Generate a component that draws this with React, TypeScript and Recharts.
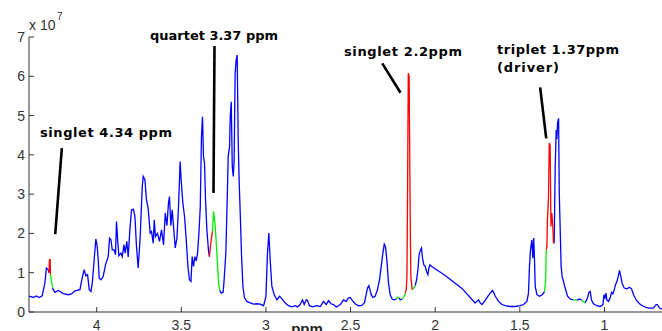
import { LineChart, Line, XAxis, YAxis, ReferenceLine } from "recharts";

// [chemical shift in ppm, intensity in units of 1e7], read left to right off the spectrum
const spectrum: [number, number][] = [
  [4.4, 0.4], [4.393, 0.4], [4.375, 0.37], [4.357, 0.41], [4.34, 0.37], [4.322, 0.41],
  [4.306, 0.74], [4.297, 1.12], [4.287, 1.08], [4.282, 1.0], [4.279, 1.33], [4.275, 1.33],
  [4.273, 0.95], [4.267, 0.78], [4.261, 0.62], [4.257, 0.57], [4.247, 0.5], [4.227, 0.55],
  [4.216, 0.52], [4.198, 0.47], [4.168, 0.44], [4.149, 0.46], [4.129, 0.54], [4.099, 0.57],
  [4.09, 0.78], [4.074, 1.08], [4.064, 0.92], [4.054, 0.95], [4.044, 0.57], [4.034, 0.52],
  [4.025, 0.78], [4.015, 1.33], [4.005, 1.86], [3.997, 1.67], [3.991, 1.33], [3.985, 0.86],
  [3.975, 0.82], [3.962, 0.9], [3.948, 1.2], [3.932, 1.41], [3.924, 1.88], [3.916, 1.84],
  [3.908, 1.58], [3.897, 1.58], [3.889, 1.46], [3.883, 2.3], [3.877, 1.88], [3.869, 1.43],
  [3.857, 1.5], [3.849, 1.41], [3.839, 1.71], [3.832, 1.5], [3.822, 1.8], [3.814, 1.4],
  [3.804, 2.09], [3.794, 2.6], [3.783, 2.62], [3.774, 2.43], [3.765, 1.67], [3.755, 1.12],
  [3.743, 1.92], [3.731, 3.19], [3.725, 3.45], [3.715, 3.36], [3.706, 2.86], [3.696, 2.64],
  [3.684, 2.01], [3.676, 2.05], [3.666, 1.75], [3.66, 2.35], [3.653, 1.92], [3.641, 2.0],
  [3.629, 1.8], [3.617, 2.09], [3.605, 1.71], [3.595, 2.52], [3.585, 2.2], [3.576, 2.77],
  [3.57, 2.94], [3.562, 2.2], [3.554, 2.6], [3.546, 2.18], [3.536, 1.63], [3.526, 1.88],
  [3.517, 2.64], [3.507, 3.83], [3.501, 3.36], [3.491, 2.77], [3.481, 2.43], [3.471, 1.84],
  [3.461, 1.16], [3.452, 0.82], [3.443, 0.78], [3.436, 1.41], [3.428, 1.16], [3.42, 1.41],
  [3.412, 1.3], [3.404, 1.5], [3.396, 2.01], [3.388, 2.68], [3.381, 4.46], [3.375, 4.97],
  [3.369, 3.96], [3.363, 3.79], [3.357, 2.86], [3.349, 2.09], [3.339, 1.54], [3.334, 1.41],
  [3.329, 1.63], [3.323, 1.85], [3.316, 2.05], [3.31, 2.56], [3.3, 2.2], [3.291, 1.58],
  [3.28, 0.74], [3.273, 0.55], [3.264, 0.48], [3.253, 0.5], [3.247, 0.82], [3.237, 1.5],
  [3.229, 2.86], [3.223, 3.96], [3.215, 4.21], [3.211, 4.97], [3.205, 5.35], [3.199, 3.7],
  [3.193, 3.45], [3.188, 3.87], [3.182, 6.08], [3.176, 6.41], [3.17, 6.54], [3.164, 4.38],
  [3.158, 3.28], [3.152, 2.52], [3.144, 1.41], [3.136, 0.65], [3.127, 0.36], [3.113, 0.27],
  [3.093, 0.23], [3.074, 0.2], [3.054, 0.21], [3.034, 0.2], [3.014, 0.16], [3.0, 0.4],
  [2.991, 1.5], [2.983, 2.01], [2.975, 1.33], [2.965, 0.65], [2.951, 0.44], [2.935, 0.31],
  [2.92, 0.4], [2.906, 0.34], [2.886, 0.23], [2.867, 0.16], [2.847, 0.13], [2.827, 0.16],
  [2.814, 0.13], [2.798, 0.19], [2.784, 0.31], [2.774, 0.19], [2.762, 0.31], [2.755, 0.3],
  [2.743, 0.16], [2.723, 0.13], [2.703, 0.16], [2.679, 0.14], [2.66, 0.27], [2.644, 0.19],
  [2.63, 0.29], [2.616, 0.21], [2.601, 0.19], [2.585, 0.13], [2.571, 0.16], [2.557, 0.21],
  [2.542, 0.31], [2.526, 0.27], [2.512, 0.36], [2.502, 0.37], [2.489, 0.29], [2.473, 0.21],
  [2.453, 0.16], [2.433, 0.17], [2.418, 0.24], [2.408, 0.44], [2.4, 0.61], [2.392, 0.67],
  [2.386, 0.57], [2.378, 0.44], [2.368, 0.37], [2.355, 0.4], [2.341, 0.57], [2.329, 0.82],
  [2.319, 1.16], [2.309, 1.5], [2.301, 1.73], [2.294, 1.67], [2.285, 1.29], [2.276, 0.74],
  [2.266, 0.44], [2.254, 0.33], [2.242, 0.31], [2.23, 0.33], [2.222, 0.38], [2.214, 0.36],
  [2.207, 0.31], [2.195, 0.33], [2.183, 0.4], [2.177, 0.48], [2.171, 0.57], [2.167, 0.9],
  [2.164, 2.56], [2.159, 6.08], [2.154, 6.0], [2.148, 2.56], [2.144, 0.9], [2.136, 0.57],
  [2.128, 0.61], [2.118, 0.67], [2.11, 0.82], [2.102, 1.08], [2.095, 1.46], [2.087, 1.58],
  [2.081, 1.63], [2.075, 1.37], [2.067, 1.2], [2.059, 1.16], [2.051, 1.03], [2.043, 0.95],
  [2.037, 1.12], [2.031, 1.2], [2.02, 1.16], [1.941, 0.93], [1.842, 0.6], [1.764, 0.23],
  [1.754, 0.27], [1.744, 0.31], [1.734, 0.23], [1.724, 0.19], [1.709, 0.27], [1.689, 0.4],
  [1.675, 0.48], [1.661, 0.55], [1.653, 0.48], [1.645, 0.4], [1.626, 0.27], [1.606, 0.19],
  [1.586, 0.16], [1.557, 0.14], [1.527, 0.14], [1.498, 0.16], [1.478, 0.19], [1.458, 0.27],
  [1.449, 0.48], [1.443, 1.16], [1.437, 1.58], [1.429, 1.84], [1.423, 1.37], [1.418, 1.88],
  [1.413, 1.3], [1.409, 0.65], [1.399, 0.44], [1.384, 0.4], [1.368, 0.44], [1.354, 0.52],
  [1.348, 0.78], [1.344, 1.58], [1.34, 1.67], [1.337, 2.35], [1.331, 2.86], [1.326, 4.3],
  [1.321, 4.25], [1.316, 2.18], [1.311, 2.52], [1.305, 2.18], [1.301, 1.75], [1.297, 1.75],
  [1.291, 3.7], [1.285, 4.63], [1.281, 4.4], [1.277, 4.81], [1.271, 4.93], [1.267, 3.03],
  [1.261, 2.01], [1.256, 1.16], [1.25, 0.9], [1.242, 0.78], [1.232, 0.61], [1.218, 0.4],
  [1.202, 0.33], [1.186, 0.31], [1.179, 0.31], [1.163, 0.3], [1.147, 0.33], [1.133, 0.3],
  [1.12, 0.25], [1.114, 0.23], [1.1, 0.36], [1.092, 0.5], [1.084, 0.52], [1.077, 0.31],
  [1.065, 0.21], [1.045, 0.16], [1.025, 0.14], [1.009, 0.19], [1.003, 0.44], [0.997, 0.36],
  [0.991, 0.48], [0.986, 0.31], [0.976, 0.27], [0.966, 0.36], [0.958, 0.5], [0.95, 0.46],
  [0.942, 0.57], [0.935, 0.69], [0.926, 0.78], [0.919, 0.9], [0.911, 1.06], [0.903, 0.9],
  [0.895, 0.72], [0.883, 0.61], [0.867, 0.59], [0.852, 0.63], [0.84, 0.59], [0.828, 0.44],
  [0.812, 0.3], [0.793, 0.21], [0.769, 0.14], [0.74, 0.1], [0.712, 0.1], [0.694, 0.19],
  [0.687, 0.19], [0.675, 0.1], [0.659, 0.08],
];

// highlighted stretches of the trace, [high ppm, low ppm]
const redRanges: [number, number][] = [
  [4.282, 4.273], [3.334, 3.316], [2.177, 2.136], [1.344, 1.301],
];
const greenRanges: [number, number][] = [
  [4.273, 4.261], [3.316, 3.273], [2.23, 2.214], [2.195, 2.177], [2.136, 2.118],
  [1.354, 1.344], [1.301, 1.297], [1.186, 1.163], [1.133, 1.114],
];

const xTicks = [4, 3.5, 3, 2.5, 2, 1.5, 1];
const yTicks = [0, 1, 2, 3, 4, 5, 6, 7];

// pointer lines for the peak labels, in data units
const pointers = [
  { from: { x: 4.206, y: 4.17 }, to: { x: 4.245, y: 1.98 } },
  { from: { x: 3.304, y: 6.77 }, to: { x: 3.31, y: 3.03 } },
  { from: { x: 2.313, y: 6.33 }, to: { x: 2.205, y: 5.58 } },
  { from: { x: 1.38, y: 5.72 }, to: { x: 1.344, y: 4.42 } },
];

const peakLabels = ["singlet 4.34 ppm", "quartet 3.37 ppm", "singlet 2.2ppm", "triplet 1.37ppm", "(driver)"];

const PLOT_LEFT = 29;
const PLOT_BOTTOM = 312;
const AXIS = "#333";

type Colour = "blue" | "red" | "green";
const inRange = (v: number, ranges: [number, number][]) =>
  ranges.some(([hi, lo]) => v <= hi && v >= lo);
const segColour = (i: number): Colour => {
  const mid = (spectrum[i][0] + spectrum[i + 1][0]) / 2;
  if (inRange(mid, redRanges)) return "red";
  if (inRange(mid, greenRanges)) return "green";
  return "blue";
};

const rows = spectrum.map(([ppm, v], i) => {
  const row: Record<string, number | null> = { ppm, blue: null, red: null, green: null };
  if (i > 0) row[segColour(i - 1)] = v;
  if (i < spectrum.length - 1) row[segColour(i)] = v;
  return row;
});

const YTick = ({ y, payload }: any) => (
  <g>
    <line x1={PLOT_LEFT} x2={PLOT_LEFT + 5} y1={y} y2={y} stroke={AXIS} />
    <text x={PLOT_LEFT - 4} y={y} dy="0.36em" textAnchor="end" fontSize={14} fill={AXIS}
      fontFamily="Liberation Sans, Arial, sans-serif">
      {payload.value}
    </text>
  </g>
);

const XTick = ({ x, payload }: any) => (
  <g>
    <line x1={x} x2={x} y1={PLOT_BOTTOM} y2={PLOT_BOTTOM - 5} stroke={AXIS} />
    <text x={x} y={PLOT_BOTTOM + 18} textAnchor="middle" fontSize={14} fill={AXIS}
      fontFamily="Liberation Sans, Arial, sans-serif">
      {payload.value}
    </text>
  </g>
);

const labelStyle = { fontFamily: "DejaVu Sans, sans-serif", fontWeight: 700, fontSize: 13 };

export default function App() {
  return (
    <div style={{ position: "absolute", left: 0, top: 0, width: 662, height: 331, background: "#fff" }}>
      <LineChart width={662} height={331} data={rows} margin={{ top: 37, right: 0, bottom: 0, left: 0 }}>
        <XAxis dataKey="ppm" type="number" domain={[0.66, 4.4]} reversed ticks={xTicks} interval={0}
          height={19} allowDataOverflow axisLine={{ stroke: AXIS }} tickLine={false} tick={<XTick />} />
        <YAxis type="number" domain={[0, 7]} ticks={yTicks} interval={0} width={29}
          axisLine={{ stroke: AXIS }} tickLine={false} tick={<YTick />} />
        <Line dataKey="blue" stroke="#0000ff" strokeWidth={1.3} dot={false} isAnimationActive={false} />
        <Line dataKey="green" stroke="#00ee00" strokeWidth={1.3} dot={false} isAnimationActive={false} />
        <Line dataKey="red" stroke="#ff0000" strokeWidth={1.3} dot={false} isAnimationActive={false} />
        {pointers.map((p, i) => (
          <ReferenceLine key={i} segment={[p.from, p.to]} stroke="#000" strokeWidth={2.6} ifOverflow="visible" />
        ))}
      </LineChart>
      <svg width={662} height={331} style={{ position: "absolute", left: 0, top: 0, pointerEvents: "none" }}>
        <text x={40} y={137} textLength={132} lengthAdjust="spacing" style={labelStyle}>{peakLabels[0]}</text>
        <text x={150} y={40} textLength={128} lengthAdjust="spacing" style={labelStyle}>{peakLabels[1]}</text>
        <text x={344} y={56} textLength={118} lengthAdjust="spacing" style={labelStyle}>{peakLabels[2]}</text>
        <text x={497} y={54} textLength={122} lengthAdjust="spacing" style={labelStyle}>{peakLabels[3]}</text>
        <text x={497} y={72} textLength={62} lengthAdjust="spacing" style={labelStyle}>{peakLabels[4]}</text>
        <text x={29} y={30} fontSize={14} fill={AXIS} fontFamily="Liberation Sans, Arial, sans-serif">x 10</text>
        <text x={57} y={20} fontSize={10} fill={AXIS} fontFamily="Liberation Sans, Arial, sans-serif">7</text>
        <text x={307} y={334} textAnchor="middle" fontSize={15} fontWeight={700} fill="#222"
          fontFamily="Liberation Sans, Arial, sans-serif">ppm</text>
      </svg>
    </div>
  );
}
